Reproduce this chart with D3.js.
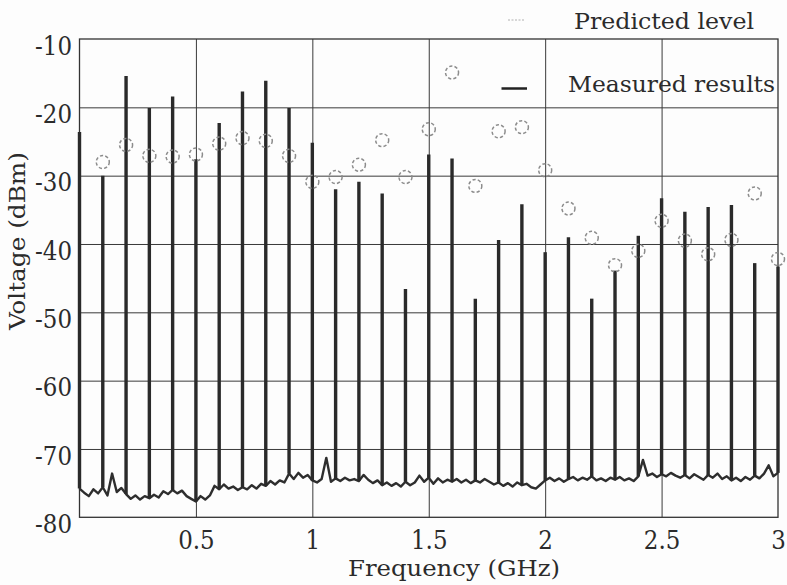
<!DOCTYPE html>
<html>
<head>
<meta charset="utf-8">
<script src="https://cdn.jsdelivr.net/npm/d3@7"></script>
<style>
  html, body { margin: 0; padding: 0; background: #fdfdfd; }
  svg { display: block; }
  text {
    font-family: "DejaVu Serif Condensed", "DejaVu Serif", serif;
    font-stretch: condensed;
    fill: #2b2b2b;
  }
</style>
</head>
<body>
<svg id="chart" width="787" height="585"></svg>
<script>
// Harmonic lines of the measured spectrum (GHz, dBm)
const harmonicFreq = [0.0, 0.1, 0.2, 0.3, 0.4, 0.5, 0.6, 0.7, 0.8, 0.9, 1.0,
                      1.1, 1.2, 1.3, 1.4, 1.5, 1.6, 1.7, 1.8, 1.9, 2.0,
                      2.1, 2.2, 2.3, 2.4, 2.5, 2.6, 2.7, 2.8, 2.9, 3.0];
const peakLevel = [-23.6, -30.0, -15.4, -20.1, -18.4, -27.6, -22.3, -17.7, -16.1, -20.1, -25.2,
                   -32.0, -30.9, -32.6, -46.6, -26.9, -27.5, -48.0, -39.4, -34.2, -41.2,
                   -39.0, -48.0, -43.9, -38.8, -33.3, -35.3, -34.6, -34.3, -42.8, -43.3];

// Predicted harmonic levels (GHz, dBm)
const predictedFreq = [0.1, 0.2, 0.3, 0.4, 0.5, 0.6, 0.7, 0.8, 0.9, 1.0,
                       1.1, 1.2, 1.3, 1.4, 1.5, 1.6, 1.7, 1.8, 1.9, 2.0,
                       2.1, 2.2, 2.3, 2.4, 2.5, 2.6, 2.7, 2.8, 2.9, 3.0];
const predictedLevel = [-28.0, -25.5, -27.1, -27.2, -26.9, -25.3, -24.5, -24.9, -27.1, -30.9,
                        -30.2, -28.4, -24.8, -30.2, -23.2, -14.9, -31.5, -23.5, -22.9, -29.2,
                        -34.8, -39.1, -43.1, -41.0, -36.6, -39.5, -41.5, -39.4, -32.6, -42.2];

// Analyzer noise floor, one sample every 0.02 GHz from 0 to 3 GHz (dBm)
const noiseStep = 0.02;
const noiseLevel = [
  -75.8, -76.4, -76.9, -75.9, -76.5, -75.6, -76.8, -73.6, -76.3, -75.7,
  -76.6, -77.3, -76.8, -77.4, -76.9, -77.2, -76.7, -77.1, -76.2, -76.6,
  -76.0, -76.5, -76.1, -76.9, -77.3, -77.7, -76.9, -77.4, -76.8, -75.4,
  -75.9, -75.2, -75.8, -75.5, -76.0, -75.6, -75.9, -75.3, -75.8, -75.1,
  -75.4, -74.7, -75.2, -74.6, -74.9, -73.6, -74.4, -73.5, -74.2, -73.8,
  -74.6, -74.9, -74.4, -71.3, -74.8, -74.3, -74.7, -74.2, -74.6, -74.4,
  -74.7, -73.8, -74.5, -75.0, -74.6, -75.3, -74.9, -75.4, -75.0, -75.5,
  -74.8, -75.3, -74.9, -73.9, -74.8, -74.2, -75.1, -74.3, -74.9, -74.5,
  -74.8, -74.4, -74.9, -74.5, -75.0, -74.6, -74.9, -74.4, -74.8, -75.2,
  -74.9, -75.4, -75.0, -75.5, -74.9, -75.3, -75.1, -75.6, -75.8, -75.2,
  -74.6, -74.2, -74.7, -74.3, -74.8, -74.4, -74.1, -74.6, -74.2, -74.5,
  -74.0, -74.6, -74.3, -74.7, -74.2, -74.5, -74.1, -74.6, -74.3, -74.7,
  -74.0, -71.6, -73.9, -73.6, -74.1, -73.7, -74.0, -73.5, -73.9, -74.2,
  -73.8, -74.3, -73.7, -74.1, -74.5, -73.8, -74.2, -73.6, -74.4, -74.0,
  -74.6, -74.2, -74.7, -74.1, -74.5, -73.9, -74.3, -73.6, -72.4, -74.0,
  -73.5
];

// Axis ticks
const freqTicks = [0.5, 1, 1.5, 2, 2.5, 3];
const voltTicks = [-80, -70, -60, -50, -40, -30, -20, -10];

const svg = d3.select("#chart");
const plotLeft = 79.5, plotRight = 778, plotTop = 39, plotBottom = 517.3;

const x = d3.scaleLinear().domain([0, 3]).range([plotLeft, plotRight]);
const y = d3.scaleLinear().domain([-80, -10]).range([plotBottom, plotTop]);

const fontStack = "'DejaVu Serif Condensed','DejaVu Serif',serif";

// Grid lines
svg.append("g")
  .attr("transform", `translate(0,${plotBottom})`)
  .call(d3.axisBottom(x).tickValues([0.5, 1, 1.5, 2, 2.5]).tickSize(-(plotBottom - plotTop)).tickFormat(""))
  .call(g => g.select(".domain").remove())
  .call(g => g.selectAll("line").attr("stroke", "#3a3a3a").attr("stroke-width", 1));

svg.append("g")
  .attr("transform", `translate(${plotLeft},0)`)
  .call(d3.axisLeft(y).tickValues([-70, -60, -50, -40, -30, -20]).tickSize(-(plotRight - plotLeft)).tickFormat(""))
  .call(g => g.select(".domain").remove())
  .call(g => g.selectAll("line").attr("stroke", "#3a3a3a").attr("stroke-width", 1));

// Frame
svg.append("rect")
  .attr("x", plotLeft).attr("y", plotTop)
  .attr("width", plotRight - plotLeft).attr("height", plotBottom - plotTop)
  .attr("fill", "none").attr("stroke", "#333").attr("stroke-width", 1.3);

// Tick labels
svg.append("g")
  .attr("transform", `translate(${plotLeft},0)`)
  .call(d3.axisLeft(y).tickValues(voltTicks).tickSize(0).tickPadding(7.5).tickFormat(d => String(d)))
  .call(g => g.select(".domain").remove())
  .call(g => g.selectAll("text")
    .attr("dy", "0.6em")
    .style("font-family", fontStack)
    .style("font-size", "25.5px").attr("fill", "#2b2b2b"));

svg.append("g")
  .attr("transform", `translate(0,${plotBottom})`)
  .call(d3.axisBottom(x).tickValues(freqTicks).tickSize(0).tickPadding(13.5).tickFormat(d => String(d)))
  .call(g => g.select(".domain").remove())
  .call(g => g.selectAll("text")
    .style("font-family", fontStack)
    .style("font-size", "25.5px").attr("fill", "#2b2b2b"));

// Measured noise floor trace
const noisePts = noiseLevel.map((v, i) => [i * noiseStep, v]);
svg.append("path")
  .datum(noisePts)
  .attr("fill", "none")
  .attr("stroke", "#2e2e2e")
  .attr("stroke-width", 2.4)
  .attr("stroke-linejoin", "round")
  .attr("d", d3.line().x(d => x(d[0])).y(d => y(d[1])));

// Measured harmonic lines, rising from the noise floor
svg.append("g")
  .selectAll("line")
  .data(harmonicFreq.map((f, i) => ({ f, peak: peakLevel[i], base: noiseLevel[Math.round(f / noiseStep)] })))
  .join("line")
  .attr("x1", d => x(d.f)).attr("x2", d => x(d.f))
  .attr("y1", d => y(d.base)).attr("y2", d => y(d.peak))
  .attr("stroke", "#2a2a2a")
  .attr("stroke-width", 3.4);

// Predicted levels
svg.append("g")
  .selectAll("circle")
  .data(predictedFreq.map((f, i) => ({ f, v: predictedLevel[i] })))
  .join("circle")
  .attr("cx", d => x(d.f)).attr("cy", d => y(d.v))
  .attr("r", 6.5)
  .attr("fill", "none")
  .attr("stroke", "#8c8c8c")
  .attr("stroke-width", 1.5)
  .attr("stroke-dasharray", "3.2,2.2");

// Legend
svg.append("line")
  .attr("x1", 508).attr("x2", 525).attr("y1", 20).attr("y2", 20)
  .attr("stroke", "#b0b0b0").attr("stroke-width", 1).attr("stroke-dasharray", "2,1.5");
svg.append("text")
  .attr("x", 574).attr("y", 29.3)
  .attr("textLength", 180).attr("lengthAdjust", "spacingAndGlyphs")
  .style("font-size", "22px")
  .text("Predicted level");

svg.append("line")
  .attr("x1", 501.5).attr("x2", 527).attr("y1", 88.5).attr("y2", 88.5)
  .attr("stroke", "#222").attr("stroke-width", 2.5);
svg.append("text")
  .attr("x", 568).attr("y", 92)
  .attr("textLength", 207).attr("lengthAdjust", "spacingAndGlyphs")
  .style("font-size", "23px")
  .text("Measured results");

// Axis titles
svg.append("text")
  .attr("x", 348).attr("y", 575.5)
  .attr("textLength", 212).attr("lengthAdjust", "spacingAndGlyphs")
  .style("font-size", "22px")
  .text("Frequency (GHz)");

svg.append("text")
  .attr("transform", "translate(25,330) rotate(-90)")
  .attr("x", 0).attr("y", 0)
  .attr("textLength", 178).attr("lengthAdjust", "spacingAndGlyphs")
  .style("font-size", "23px")
  .text("Voltage (dBm)");
</script>
</body>
</html>
